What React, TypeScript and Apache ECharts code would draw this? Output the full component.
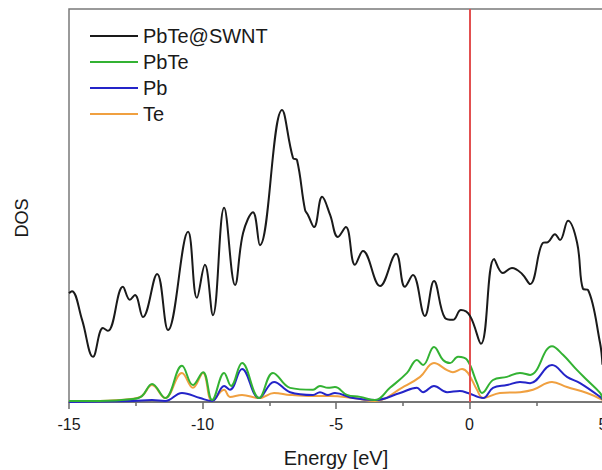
import React, { useEffect, useRef } from "react";
import * as echarts from "echarts";

// PbTe@SWNT total DOS
const swntEnergy = [-15.0, -14.89, -14.51, -14.1, -13.73, -13.54, -12.98, -12.72, -12.53, -12.23, -11.7, -11.29, -10.54, -10.21, -9.91, -9.61, -9.19, -8.78, -8.48, -8.11, -7.85, -7.02, -6.61, -6.46, -6.16, -6.05, -5.82, -5.52, -5.22, -4.93, -4.63, -4.29, -3.99, -3.35, -2.75, -2.42, -2.12, -1.67, -1.33, -0.92, -0.62, -0.32, 0.02, 0.43, 0.92, 1.25, 1.59, 1.97, 2.27, 2.75, 2.94, 3.2, 3.39, 3.69, 4.03, 4.25, 4.44, 4.89, 4.98];
const swntDos = [27.7, 28.2, 20.9, 11.5, 18.8, 18.1, 29.3, 26.0, 27.2, 21.6, 32.6, 18.3, 43.3, 26.5, 34.9, 22.1, 49.4, 29.8, 43.0, 48.3, 39.9, 74.3, 62.1, 61.6, 48.9, 47.6, 44.5, 52.2, 47.6, 42.0, 44.5, 34.9, 38.4, 29.5, 37.7, 29.3, 32.3, 21.9, 30.8, 21.4, 20.9, 23.4, 21.9, 14.8, 36.4, 32.8, 34.1, 32.6, 30.0, 40.5, 40.7, 42.7, 41.2, 46.1, 40.5, 28.8, 28.5, 15.0, 9.5];

// PbTe DOS
const pbteEnergy = [-15.0, -13.84, -12.6, -12.27, -11.89, -11.4, -10.77, -10.36, -9.98, -9.64, -9.19, -8.93, -8.52, -7.88, -7.36, -6.72, -5.86, -5.6, -5.3, -5.04, -4.59, -4.1, -3.54, -2.98, -2.34, -1.97, -1.74, -1.33, -0.99, -0.73, -0.43, -0.09, 0.28, 0.47, 0.88, 1.4, 1.89, 2.27, 3.09, 3.5, 4.03, 4.4, 4.89, 5.0];
const pbteDos = [0.25, 0.25, 0.76, 1.5, 4.6, 1.0, 9.2, 4.3, 7.6, 0.5, 7.4, 4.1, 9.9, 1.0, 7.4, 3.6, 3.1, 4.1, 3.6, 3.8, 1.8, 1.3, 0.5, 3.6, 7.4, 10.7, 9.4, 14.0, 10.7, 9.9, 11.5, 10.7, 4.8, 2.3, 5.6, 6.4, 7.4, 6.9, 14.2, 12.0, 8.1, 5.6, 2.3, 0.5];

// Pb partial DOS
const pbEnergy = [-15.0, -12.6, -11.89, -11.4, -10.77, -10.09, -9.64, -9.19, -8.97, -8.52, -7.88, -7.32, -6.72, -5.86, -5.6, -5.3, -5.04, -4.36, -3.54, -2.6, -1.97, -1.74, -1.33, -0.84, -0.36, -0.06, 0.51, 0.88, 1.4, 1.89, 2.27, 3.09, 3.65, 4.14, 4.89, 5.0];
const pbDos = [0.0, 0.25, 0.5, 0.25, 2.3, 1.0, 0.25, 4.1, 3.1, 8.4, 1.0, 5.1, 2.5, 1.8, 2.5, 1.8, 2.3, 1.0, 0.5, 2.3, 3.6, 2.5, 4.1, 2.5, 2.8, 2.3, 1.0, 3.6, 4.3, 5.1, 4.8, 9.4, 6.4, 4.8, 1.3, 0.5];

// Te partial DOS
const teEnergy = [-15.0, -13.84, -12.6, -12.27, -11.89, -11.4, -10.77, -10.36, -9.98, -9.64, -9.19, -8.97, -8.52, -7.88, -7.32, -6.72, -5.86, -5.22, -4.36, -3.54, -2.49, -1.85, -1.33, -0.84, -0.62, -0.28, -0.06, 0.28, 0.51, 1.14, 1.89, 2.38, 3.09, 3.65, 4.4, 5.0];
const teDos = [0.25, 0.25, 0.8, 1.5, 4.3, 1.0, 7.4, 3.6, 7.4, 0.25, 3.1, 1.3, 1.8, 1.0, 2.3, 1.8, 1.5, 1.5, 1.0, 0.25, 3.8, 6.4, 9.9, 8.1, 7.6, 8.4, 7.4, 3.1, 1.0, 2.3, 2.5, 3.1, 5.1, 3.8, 2.3, 0.5];

const xTicks = [-15, -10, -5, 0, 5];
const fermiLevel = 0;

const FONT = "'Liberation Sans', Arial, Helvetica, sans-serif";

const pairs = (xs: number[], ys: number[]) => xs.map((x, i) => [x, ys[i]]);

export default function App() {
  const ref = useRef<HTMLDivElement>(null);
  useEffect(() => {
    document.body.style.margin = "0";
    if (!ref.current) return;
    const chart = echarts.init(ref.current, undefined, { renderer: "svg" });
    const lineSeries = (name: string, xs: number[], ys: number[], color: string, width: number, z: number) => ({
      name,
      type: "line",
      data: pairs(xs, ys),
      smooth: 0.4,
      symbol: "none",
      showSymbol: false,
      lineStyle: { color, width },
      itemStyle: { color },
      z,
    });
    const black = lineSeries("PbTe@SWNT", swntEnergy, swntDos, "#1a1a1a", 2, 5) as any;
    black.markLine = {
      silent: true,
      symbol: "none",
      label: { show: false },
      lineStyle: { color: "#e25050", width: 2, type: "solid" },
      data: [{ xAxis: fermiLevel }],
    };
    chart.setOption({
      animation: false,
      backgroundColor: "#ffffff",
      grid: {
        left: 69,
        top: 9,
        width: 534,
        height: 393,
        containLabel: false,
        outerBoundsMode: "none",
        show: true,
        borderColor: "#7a7a7a",
        borderWidth: 1.5,
        backgroundColor: "transparent",
      },
      legend: {
        orient: "vertical",
        left: 90,
        top: 26,
        padding: 0,
        itemGap: 6,
        itemWidth: 48,
        itemHeight: 2,
        icon: "rect",
        textStyle: { fontFamily: FONT, fontSize: 20, color: "#1a1a1a", lineHeight: 20 },
        data: ["PbTe@SWNT", "PbTe", "Pb", "Te"],
      },
      xAxis: {
        type: "value",
        min: xTicks[0],
        max: xTicks[xTicks.length - 1],
        interval: 5,
        name: "Energy [eV]",
        nameLocation: "middle",
        nameGap: 46,
        nameTextStyle: { fontFamily: FONT, fontSize: 20, color: "#1a1a1a" },
        axisLine: { show: true, onZero: false, lineStyle: { color: "#6a6a6a", width: 1.5 } },
        axisTick: { show: true, inside: false, length: 7, lineStyle: { color: "#6a6a6a", width: 1.5 } },
        minorTick: { show: true, splitNumber: 2, length: 4, lineStyle: { color: "#6a6a6a", width: 1.5 } },
        axisLabel: { fontFamily: FONT, fontSize: 16, color: "#1a1a1a", margin: 14 },
        splitLine: { show: false },
      },
      yAxis: {
        type: "value",
        min: 0,
        max: 100,
        axisLine: { show: false },
        axisTick: { show: false },
        axisLabel: { show: false },
        splitLine: { show: false },
      },
      graphic: [
        {
          type: "text",
          x: 22,
          y: 218,
          rotation: Math.PI / 2,
          style: {
            text: "DOS",
            fontFamily: FONT,
            fontSize: 18,
            fill: "#1a1a1a",
            align: "center",
            verticalAlign: "middle",
          },
        },
      ],
      series: [
        black,
        lineSeries("PbTe", pbteEnergy, pbteDos, "#33b233", 2, 4),
        lineSeries("Pb", pbEnergy, pbDos, "#2424c8", 2, 3),
        lineSeries("Te", teEnergy, teDos, "#f0a040", 2, 2),
      ],
    });
    return () => chart.dispose();
  }, []);
  return <div ref={ref} style={{ width: 602, height: 470 }} />;
}
